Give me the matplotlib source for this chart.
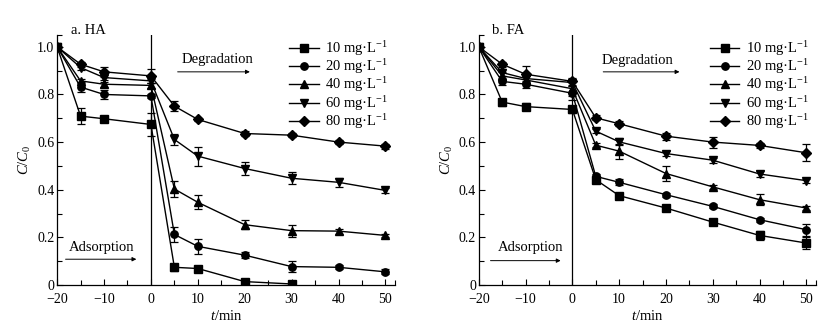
import matplotlib
matplotlib.use("Agg")
import matplotlib.pyplot as plt
from matplotlib.ticker import FixedLocator
from matplotlib.lines import Line2D

plt.rcParams['font.family'] = ['Liberation Serif', 'DejaVu Serif']
plt.rcParams['mathtext.fontset'] = 'custom'
plt.rcParams['mathtext.rm'] = 'Liberation Serif'
plt.rcParams['mathtext.it'] = 'Liberation Serif:italic'
plt.rcParams['font.size'] = 10

labels = ['10 mg·L$^{-1}$', '20 mg·L$^{-1}$', '40 mg·L$^{-1}$', '60 mg·L$^{-1}$', '80 mg·L$^{-1}$']
markers = ['s', 'o', '^', 'v', 'D']

t_full = [-20, -15, -10, 0, 5, 10, 20, 30, 40, 50]
t_ha10 = [-20, -15, -10, 0, 5, 10, 20, 30]

# HA
ha_10 = [1.0, 0.709, 0.698, 0.674, 0.074, 0.069, 0.014, 0.004]
ha_20 = [1.0, 0.831, 0.800, 0.794, 0.212, 0.162, 0.125, 0.077, 0.074, 0.055]
ha_40 = [1.0, 0.857, 0.843, 0.838, 0.403, 0.347, 0.253, 0.228, 0.226, 0.208]
ha_60 = [1.0, 0.913, 0.871, 0.857, 0.611, 0.541, 0.489, 0.448, 0.431, 0.397]
ha_80 = [1.0, 0.927, 0.895, 0.878, 0.751, 0.695, 0.636, 0.629, 0.600, 0.583]
ha_10_err = [0.0, 0.035, 0.008, 0.05, 0.015, 0.012, 0.008, 0.005]
ha_20_err = [0.0, 0.02, 0.02, 0.01, 0.032, 0.033, 0.012, 0.022, 0.008, 0.01]
ha_40_err = [0.0, 0.01, 0.01, 0.01, 0.033, 0.03, 0.02, 0.025, 0.01, 0.008]
ha_60_err = [0.0, 0.01, 0.01, 0.01, 0.022, 0.04, 0.028, 0.025, 0.02, 0.01]
ha_80_err = [0.0, 0.01, 0.02, 0.03, 0.021, 0.005, 0.01, 0.008, 0.01, 0.01]

# FA
fa_10 = [1.0, 0.768, 0.749, 0.737, 0.442, 0.375, 0.323, 0.264, 0.208, 0.176]
fa_20 = [1.0, 0.855, 0.843, 0.805, 0.456, 0.431, 0.379, 0.330, 0.274, 0.232]
fa_40 = [1.0, 0.878, 0.861, 0.824, 0.587, 0.562, 0.468, 0.412, 0.358, 0.323]
fa_60 = [1.0, 0.892, 0.867, 0.850, 0.646, 0.601, 0.552, 0.524, 0.466, 0.438]
fa_80 = [1.0, 0.927, 0.885, 0.855, 0.702, 0.677, 0.625, 0.600, 0.586, 0.555]
fa_10_err = [0.0, 0.015, 0.015, 0.015, 0.01, 0.012, 0.008, 0.006, 0.019, 0.027]
fa_20_err = [0.0, 0.015, 0.015, 0.03, 0.01, 0.012, 0.008, 0.008, 0.008, 0.025]
fa_40_err = [0.0, 0.015, 0.015, 0.03, 0.008, 0.032, 0.032, 0.008, 0.022, 0.01]
fa_60_err = [0.0, 0.015, 0.015, 0.015, 0.008, 0.015, 0.01, 0.01, 0.012, 0.008]
fa_80_err = [0.0, 0.01, 0.035, 0.015, 0.01, 0.01, 0.015, 0.023, 0.012, 0.035]

x_ticks = [-20, -10, 0, 10, 20, 30, 40, 50]
y_ticks = [0, 0.2, 0.4, 0.6, 0.8, 1.0]
y_ticklabels = ['0', '0.2', '0.4', '0.6', '0.8', '1.0']

fig = plt.figure(figsize=(8.4, 3.36), dpi=100)
ax1 = fig.add_axes([0.068, 0.152, 0.402, 0.744])
ax2 = fig.add_axes([0.570, 0.152, 0.401, 0.744])

panels = [
    (ax1, 'a. HA',
     [(t_ha10, ha_10, ha_10_err), (t_full, ha_20, ha_20_err), (t_full, ha_40, ha_40_err),
      (t_full, ha_60, ha_60_err), (t_full, ha_80, ha_80_err)],
     (14.2, 0.947, 5.7, 21.1, 0.895), (-10.5, 0.159, -18.2, -3.1, 0.108)),
    (ax2, 'b. FA',
     [(t_full, fa_10, fa_10_err), (t_full, fa_20, fa_20_err), (t_full, fa_40, fa_40_err),
      (t_full, fa_60, fa_60_err), (t_full, fa_80, fa_80_err)],
     (14.0, 0.941, 6.6, 22.9, 0.895), (-9.0, 0.156, -17.5, -2.5, 0.102)),
]

for ax, title, series, deg, ads in panels:
    handles = []
    for (x, y, e), m, lab in zip(series, markers, labels):
        ms = 4.6 if m == 'D' else 5.3
        ax.errorbar(x, y, yerr=e, color='black', marker=m, ms=ms, lw=1.0,
                    elinewidth=0.9, capsize=2.6, capthick=0.9)
        handles.append(Line2D([], [], color='black', marker=m, ms=ms, lw=1.0, label=lab))
    ax.axvline(0, color='black', lw=0.9)
    ax.set_xlim(-20, 52)
    ax.set_ylim(0, 1.05)
    ax.set_xticks(x_ticks)
    ax.set_xticklabels([str(v).replace('-', '\u2212') for v in x_ticks])
    ax.xaxis.set_minor_locator(FixedLocator([-15, -5, 5, 15, 25, 35, 45, 52]))
    ax.set_yticks(y_ticks)
    ax.set_yticklabels(y_ticklabels)
    ax.yaxis.set_minor_locator(FixedLocator([0.1, 0.3, 0.5, 0.7, 0.9, 1.05]))
    ax.tick_params(which='both', direction='in', top=False, right=False, labelsize=10)
    ax.tick_params(axis='x', which='both', pad=6)
    ax.tick_params(axis='y', which='both', pad=2)
    ax.tick_params(which='major', length=4, width=0.8)
    ax.tick_params(which='minor', length=3.5, width=0.8)
    ax.spines['top'].set_visible(False)
    ax.spines['right'].set_visible(False)
    for s in ('left', 'bottom'):
        ax.spines[s].set_linewidth(0.9)
    ax.set_xlabel('$t$/min', fontsize=10.5, labelpad=2)
    ax.set_ylabel('$C$/$C_0$', fontsize=10.5, labelpad=3)
    ax.text(0.04, 1.016, title, transform=ax.transAxes, ha='left', va='center',
            fontsize=10.5)
    dx, dy, a0, a1, ay = deg
    ax.text(dx, dy, 'Degradation', ha='center', va='center', fontsize=10.5)
    ax.annotate('', xy=(a1, ay), xytext=(a0, ay),
                arrowprops=dict(arrowstyle='-|>', color='black', lw=0.7,
                                mutation_scale=6, shrinkA=0, shrinkB=0))
    dx, dy, a0, a1, ay = ads
    ax.text(dx, dy, 'Adsorption', ha='center', va='center', fontsize=10.5)
    ax.annotate('', xy=(a1, ay), xytext=(a0, ay),
                arrowprops=dict(arrowstyle='-|>', color='black', lw=0.7,
                                mutation_scale=6, shrinkA=0, shrinkB=0))
    ax.legend(handles=handles, loc='upper right', bbox_to_anchor=(0.985, 0.99),
              frameon=False, fontsize=10.5, handlelength=2.0, handletextpad=0.45,
              labelspacing=-0.04, borderaxespad=0.0, borderpad=0.1)

fig.savefig('out.png', dpi=100)
